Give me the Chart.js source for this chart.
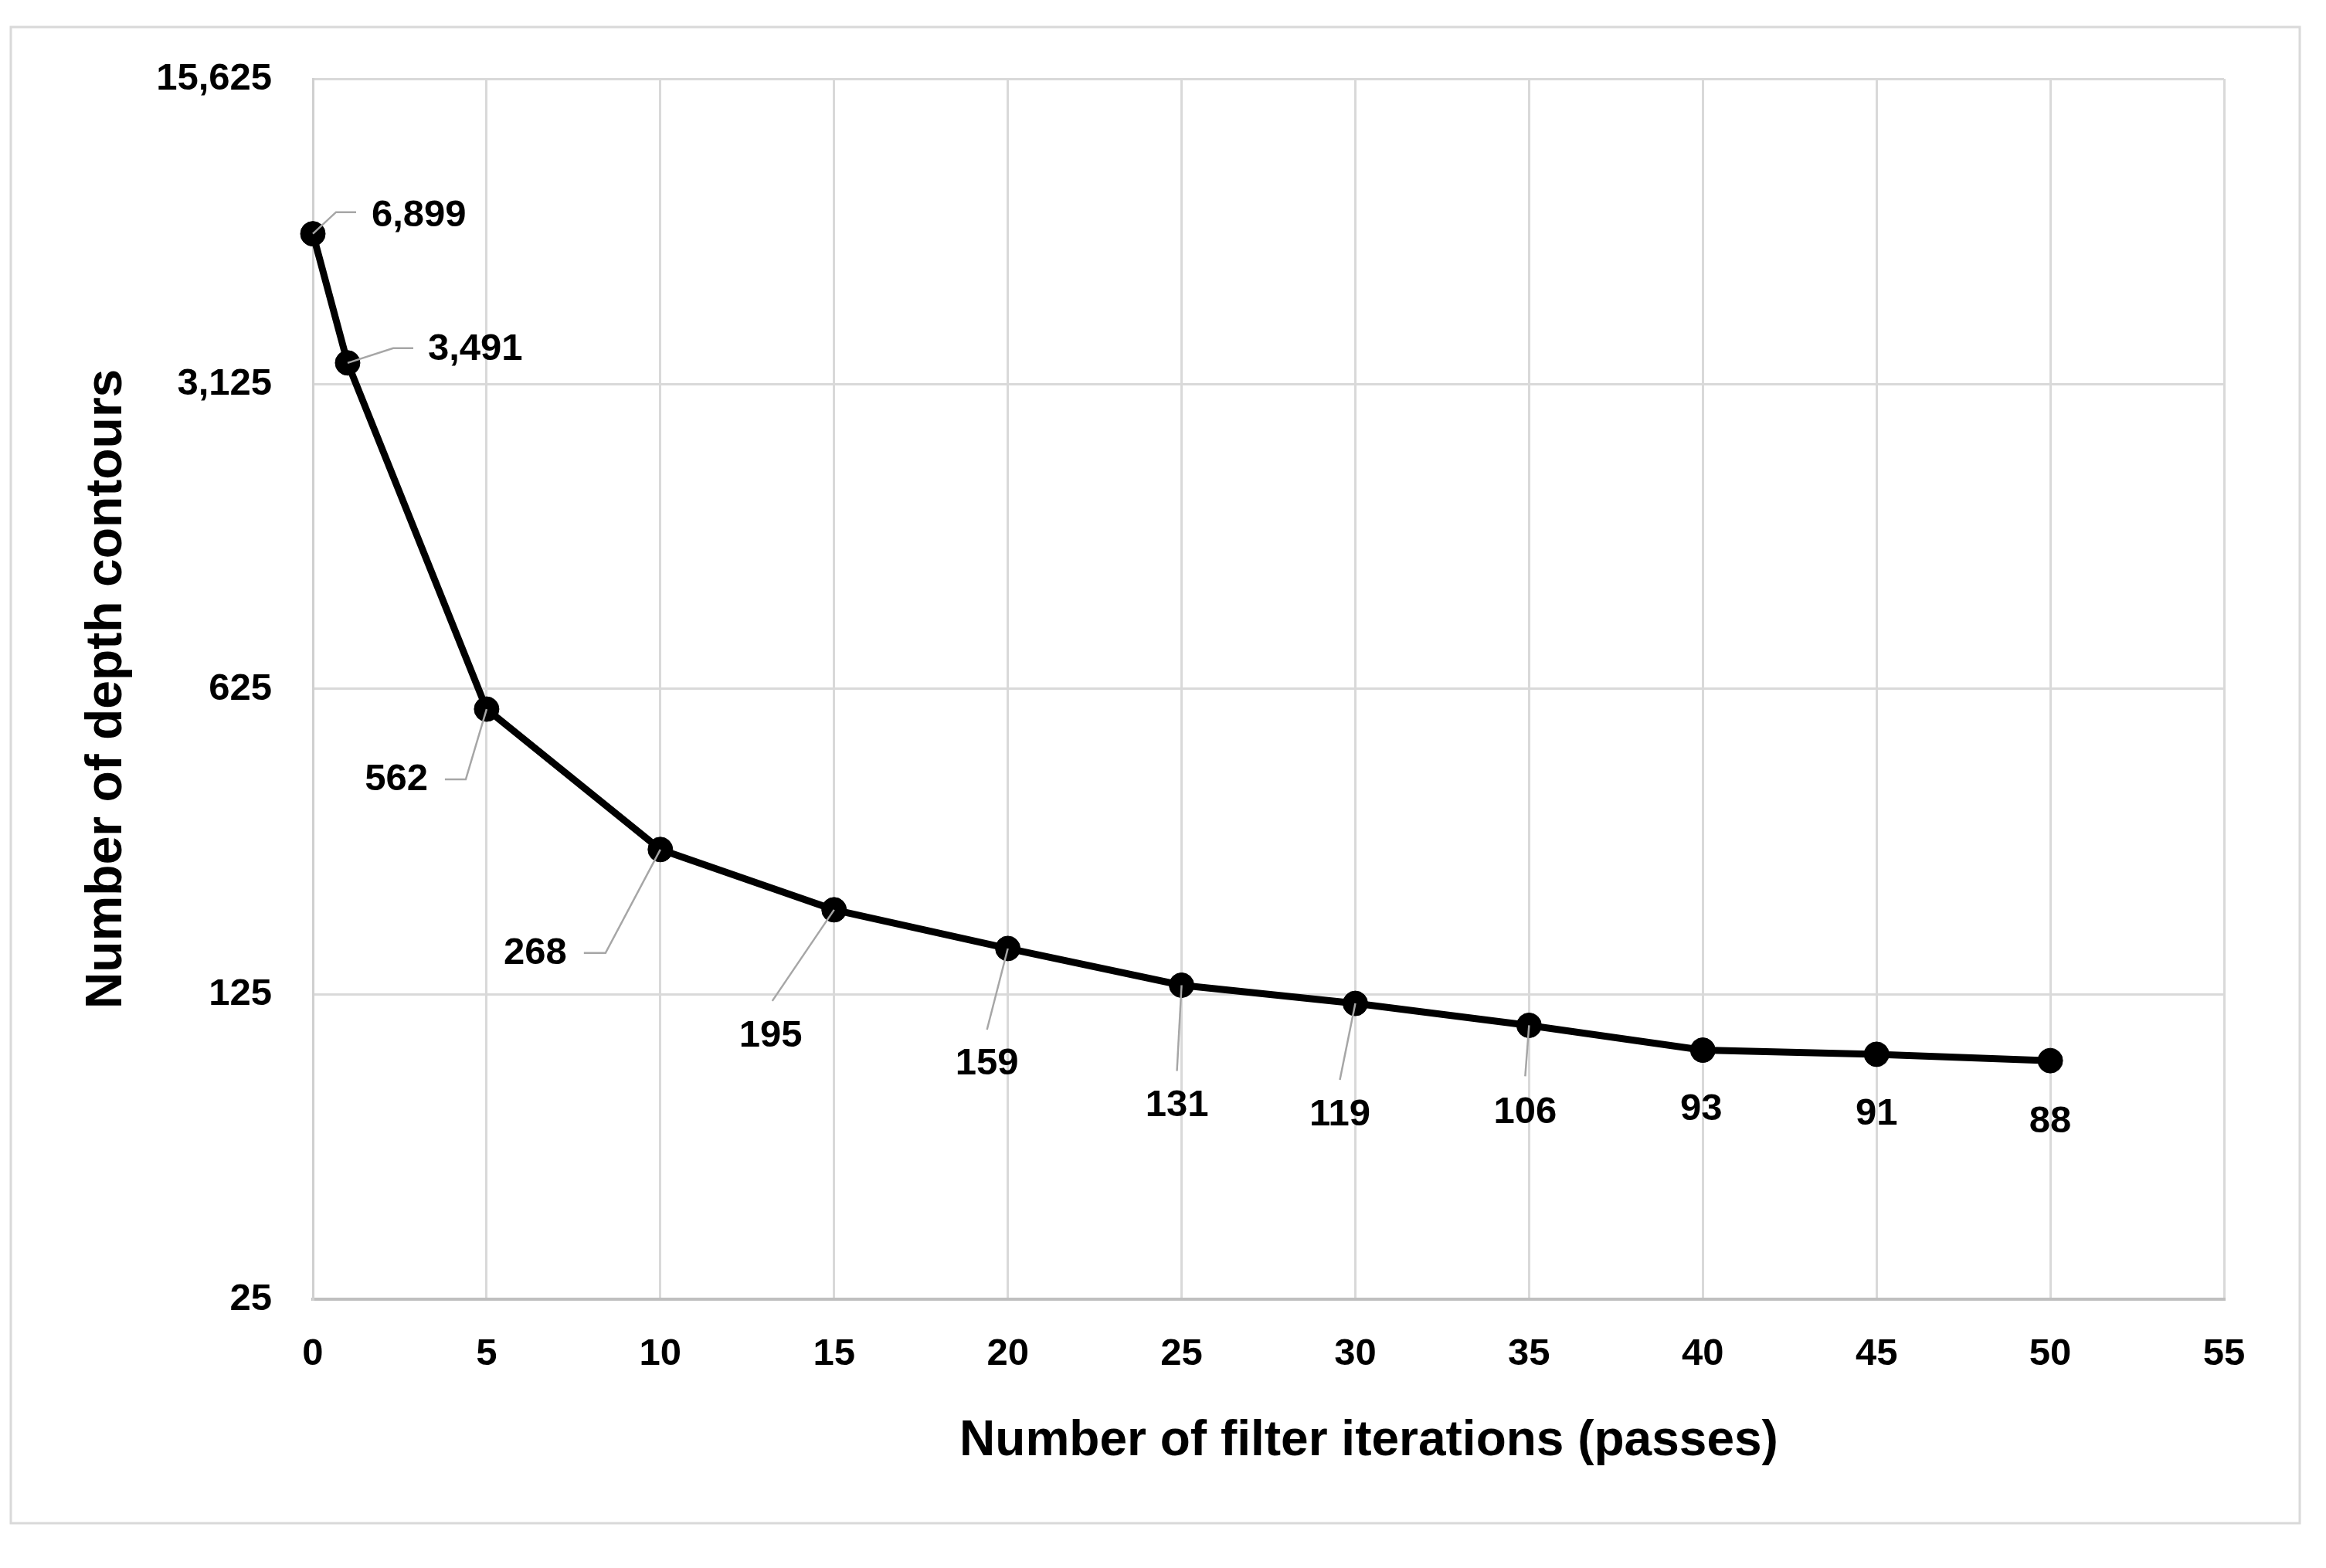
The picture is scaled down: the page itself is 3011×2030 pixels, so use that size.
<!DOCTYPE html>
<html>
<head>
<meta charset="utf-8">
<title>Depth contours vs filter iterations</title>
<script src="https://cdn.jsdelivr.net/npm/chart.js@4.4.1/dist/chart.umd.min.js"></script>
<style>
  html, body { margin: 0; padding: 0; background: #fff; }
  canvas { display: block; }
</style>
</head>
<body>
<canvas id="contourChart" width="3011" height="2030"></canvas>
<script>
// Data
const iterations = [0, 1, 5, 10, 15, 20, 25, 30, 35, 40, 45, 50];
const contours = [6899, 3491, 562, 268, 195, 159, 131, 119, 106, 93, 91, 88];
const xTicks = [0, 5, 10, 15, 20, 25, 30, 35, 40, 45, 50, 55];
const yTicks = [25, 125, 625, 3125, 15625];

const FONT = "'Liberation Sans', Arial, sans-serif";

// label placement (px offsets from the marker), leader line elbows
const callouts = [
  { dx: 76, dy: -23, align: 'left', leader: [[30, -28], [56, -28]] },
  { dx: 104, dy: -17, align: 'left', leader: [[59, -19], [85, -19]] },
  { dx: -76, dy: 91, align: 'right', leader: [[-27, 91], [-54, 91]] },
  { dx: -121, dy: 135, align: 'right', leader: [[-71, 134], [-99, 134]] },
  { dx: -82, dy: 164, align: 'center', leader: [[-80, 118]] },
  { dx: -27, dy: 150, align: 'center', leader: [[-27, 105]] },
  { dx: -6, dy: 156, align: 'center', leader: [[-6, 111]] },
  { dx: -20, dy: 144, align: 'center', leader: [[-20, 99]] },
  { dx: -5, dy: 113, align: 'center', leader: [[-5, 66]] },
  { dx: -2, dy: 77, align: 'center', leader: [] },
  { dx: 0, dy: 78, align: 'center', leader: [] },
  { dx: 0, dy: 79, align: 'center', leader: [] }
];

const frame = {
  id: 'frame',
  beforeDraw(chart) {
    const ctx = chart.ctx;
    ctx.save();
    ctx.strokeStyle = '#d9d9d9';
    ctx.lineWidth = 3;
    ctx.strokeRect(14, 35, 2963, 1937);
    ctx.restore();
  },
  afterDraw(chart) {
    // x axis title sits off-centre in the original
    const ctx = chart.ctx;
    ctx.save();
    ctx.fillStyle = '#000';
    ctx.font = 'bold 64px ' + FONT;
    ctx.textAlign = 'center';
    ctx.textBaseline = 'middle';
    ctx.fillText('Number of filter iterations (passes)', 1772, 1866);
    ctx.restore();
  }
};

const valueLabels = {
  id: 'valueLabels',
  afterDatasetsDraw(chart) {
    const ctx = chart.ctx;
    const pts = chart.getDatasetMeta(0).data;
    ctx.save();
    pts.forEach((p, i) => {
      const c = callouts[i];
      if (c.leader.length) {
        ctx.beginPath();
        ctx.moveTo(p.x, p.y);
        c.leader.forEach(([lx, ly]) => ctx.lineTo(p.x + lx, p.y + ly));
        ctx.strokeStyle = '#a6a6a6';
        ctx.lineWidth = 2.5;
        ctx.stroke();
      }
      ctx.fillStyle = '#000';
      ctx.font = 'bold 49px ' + FONT;
      ctx.textAlign = c.align;
      ctx.textBaseline = 'middle';
      ctx.fillText(contours[i].toLocaleString('en-US'), p.x + c.dx, p.y + c.dy);
    });
    ctx.restore();
  }
};

const ctx = document.getElementById('contourChart').getContext('2d');

new Chart(ctx, {
  type: 'line',
  data: {
    datasets: [{
      data: iterations.map((x, i) => ({ x: x, y: contours[i] })),
      borderColor: '#000',
      borderWidth: 9,
      pointRadius: 16,
      pointBackgroundColor: '#000',
      pointBorderColor: '#000',
      pointBorderWidth: 1,
      tension: 0,
      clip: false
    }]
  },
  options: {
    responsive: false,
    maintainAspectRatio: false,
    devicePixelRatio: 1,
    animation: false,
    layout: { padding: { top: 102, right: 132, bottom: 0, left: 0 } },
    plugins: {
      legend: { display: false },
      tooltip: { enabled: false }
    },
    scales: {
      x: {
        type: 'linear',
        min: 0,
        max: 55,
        afterBuildTicks: s => { s.ticks = xTicks.map(v => ({ value: v })); },
        afterFit: s => { s.height = 348; },
        grid: { color: '#d9d9d9', lineWidth: 3, drawTicks: false },
        border: { display: true, color: '#bfbfbf', width: 4 },
        ticks: {
          color: '#000',
          padding: 42,
          font: { family: FONT, size: 49, weight: 'bold' }
        }
      },
      y: {
        type: 'logarithmic',
        min: 25,
        max: 15625,
        afterBuildTicks: s => { s.ticks = yTicks.map(v => ({ value: v })); },
        afterFit: s => { s.width = 405; },
        grid: { color: '#d9d9d9', lineWidth: 3, drawTicks: false },
        border: { display: true, color: '#d0d0d0', width: 3 },
        ticks: {
          color: '#000',
          padding: 53,
          font: { family: FONT, size: 49, weight: 'bold' },
          callback: v => Number(v).toLocaleString('en-US')
        },
        title: {
          display: true,
          text: 'Number of depth contours',
          color: '#000',
          padding: { top: 99, bottom: 0 },
          font: { family: FONT, size: 66, weight: 'bold' }
        }
      }
    }
  },
  plugins: [frame, valueLabels]
});
</script>
</body>
</html>
